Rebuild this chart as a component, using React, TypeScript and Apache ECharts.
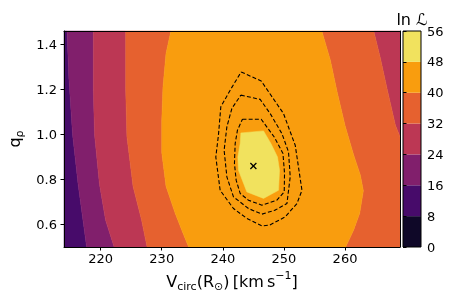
import React, { useEffect, useRef } from "react";
import * as echarts from "echarts";

const FONT = "DejaVu Sans";
const V_MIN = 214;
const V_MAX = 269;
const Q_MIN = 0.5;
const Q_MAX = 1.46;
const xTicks = [220, 230, 240, 250, 260];
const yTicks = [0.6, 0.8, 1.0, 1.2, 1.4];
const levels = [0, 8, 16, 24, 32, 40, 48, 56];
const bandColors = ["#0f0828", "#470b6a", "#811f6c", "#bc3754", "#e6612f", "#f99d0e", "#f1e25e"];

// iso-lines of ln L (top -> bottom), [Vcirc, q]
const edge16 = [[214.5, 1.46], [214.8, 1.25], [215.4, 1.0], [216.3, 0.78], [217.7, 0.5]];
const edge24 = [[218.8, 1.46], [218.8, 1.2], [219.0, 1.0], [219.8, 0.78], [220.8, 0.62], [222.2, 0.5]];
const edge32Left = [[224.1, 1.46], [224.1, 1.2], [224.3, 0.99], [225.3, 0.77], [226.7, 0.62], [227.6, 0.5]];
const edge32Right = [[264.7, 1.46], [265.8, 1.338], [267.0, 1.189], [268.25, 1.041], [269.0, 0.99]];
const edge40Left = [[231.5, 1.46], [230.7, 1.36], [230.2, 1.21], [230.0, 1.06], [230.0, 0.92], [230.7, 0.77], [232.2, 0.65], [233.5, 0.56], [234.4, 0.5]];
const edge40Right = [[256.2, 1.46], [257.6, 1.33], [258.7, 1.19], [260.0, 1.04], [261.4, 0.91], [262.5, 0.82], [263.0, 0.75], [262.4, 0.65], [261.4, 0.575], [260.1, 0.5]];
const peak48 = [[242.95, 1.007], [246.66, 1.016], [247.87, 0.96], [248.95, 0.9], [249.28, 0.841], [249.11, 0.752], [246.66, 0.716], [243.93, 0.745], [242.56, 0.841], [242.46, 0.9], [242.84, 0.96]];

// dashed confidence contours
const contourInner = [[243.21, 1.068], [246.28, 1.068], [248.41, 0.989], [249.84, 0.916], [250.1, 0.827], [250.05, 0.745], [248.85, 0.708], [246.39, 0.686], [244.2, 0.708], [242.84, 0.738], [242.18, 0.797], [241.9, 0.871], [242.02, 0.96], [242.39, 1.019]];
const contourMiddle = [[242.95, 1.175], [246.11, 1.156], [247.75, 1.093], [249.67, 1.004], [250.75, 0.923], [251.03, 0.812], [250.49, 0.693], [248.57, 0.664], [246.39, 0.646], [244.2, 0.671], [241.74, 0.723], [240.66, 0.812], [240.21, 0.93], [240.66, 1.034], [241.48, 1.116]];
const contourOuter = [[243.0, 1.278], [246.28, 1.238], [249.93, 1.093], [251.85, 0.952], [252.95, 0.752], [252.13, 0.693], [250.21, 0.634], [247.64, 0.597], [246.39, 0.594], [243.93, 0.627], [241.74, 0.671], [239.56, 0.752], [238.85, 0.9], [239.28, 0.997], [239.67, 1.123], [241.2, 1.197]];
const bestFit = [245, 0.86];

// each band drawn explicitly (band index into bandColors)
const regions = [
  { band: 1, pts: [[V_MIN, Q_MAX], ...edge16, [V_MIN, Q_MIN]] },
  { band: 2, pts: [...edge16, ...edge24.slice().reverse()] },
  { band: 3, pts: [...edge24, ...edge32Left.slice().reverse()] },
  { band: 3, pts: [...edge32Right, [V_MAX, Q_MAX]] },
  { band: 4, pts: [...edge32Left, ...edge40Left.slice().reverse()] },
  { band: 4, pts: [...edge40Right, [V_MAX, Q_MIN], ...edge32Right.slice().reverse()] },
  { band: 5, pts: [...edge40Left, ...edge40Right.slice().reverse()] },
  { band: 6, pts: peak48 },
];

const close = (a: number[][]) => [...a, a[0]];

const tickLabel = { fontFamily: FONT, fontSize: 13, color: "#000" };

const option: any = {
  animation: false,
  grid: [
    { left: 64, top: 31, width: 336, height: 216, outerBoundsMode: "none" },
    { left: 403, top: 31, width: 18, height: 216, outerBoundsMode: "none" },
  ],
  xAxis: [
    {
      gridIndex: 0, type: "value", min: V_MIN, max: V_MAX, z: 10,
      axisLine: { show: true, lineStyle: { color: "#000", width: 1 } },
      axisTick: { show: true, length: 3.5, customValues: xTicks, lineStyle: { color: "#000" } },
      axisLabel: { ...tickLabel, margin: 5, customValues: xTicks },
      splitLine: { show: false },
      name: "{m|V}{s|circ}{m|(R}{s|⊙}{m|)\u2009[km\u2009s}{p|−1}{m|]}",
      nameLocation: "middle",
      nameGap: 23,
      nameTextStyle: {
        fontFamily: FONT, fontSize: 16, color: "#000",
        rich: {
          m: { fontFamily: FONT, fontSize: 16, lineHeight: 22, color: "#000" },
          s: { fontFamily: FONT, fontSize: 11, lineHeight: 11, color: "#000", verticalAlign: "bottom" },
          p: { fontFamily: FONT, fontSize: 11, lineHeight: 11, color: "#000", verticalAlign: "top" },
        },
      },
    },
    {
      gridIndex: 0, type: "value", min: V_MIN, max: V_MAX, position: "top", z: 10,
      axisLine: { show: true, lineStyle: { color: "#000", width: 1 } },
      axisTick: { show: false }, axisLabel: { show: false }, splitLine: { show: false },
    },
    {
      gridIndex: 1, type: "value", min: 0, max: 1, show: false,
    },
  ],
  yAxis: [
    {
      gridIndex: 0, type: "value", min: Q_MIN, max: Q_MAX, z: 10,
      axisLine: { show: true, lineStyle: { color: "#000", width: 1 } },
      axisTick: { show: true, length: 3.5, customValues: yTicks, lineStyle: { color: "#000" } },
      axisLabel: { ...tickLabel, margin: 7, customValues: yTicks, formatter: (v: number) => v.toFixed(1) },
      splitLine: { show: false },
      name: "{m|q}{s|ρ}",
      nameLocation: "middle",
      nameRotate: 90,
      nameGap: 34,
      nameTextStyle: {
        fontFamily: FONT, fontSize: 16, color: "#000",
        rich: {
          m: { fontFamily: FONT, fontSize: 16, lineHeight: 22, color: "#000" },
          s: { fontFamily: FONT, fontSize: 11, lineHeight: 11, color: "#000", verticalAlign: "bottom" },
        },
      },
    },
    {
      gridIndex: 0, type: "value", min: Q_MIN, max: Q_MAX, position: "right", z: 10,
      axisLine: { show: true, lineStyle: { color: "#000", width: 1 } },
      axisTick: { show: false }, axisLabel: { show: false }, splitLine: { show: false },
    },
    {
      gridIndex: 1, type: "value", min: 0, max: 56, interval: 8, position: "right", z: 10,
      axisLine: { show: false },
      axisTick: { show: true, length: 3.5, lineStyle: { color: "#000" } },
      axisLabel: { ...tickLabel, margin: 6 },
      splitLine: { show: false },
    },
  ],
  graphic: [
    {
      type: "text", x: 412, y: 19.5, z: 20,
      style: { text: "ln ℒ", fontFamily: FONT, fontSize: 16, fill: "#000", align: "center", verticalAlign: "middle" },
    },
  ],
  series: [
    {
      type: "custom", xAxisIndex: 0, yAxisIndex: 0, clip: false, silent: true, z: 1,
      data: [[V_MIN, Q_MIN]],
      renderItem: (params: any, api: any) => ({
        type: "group",
        children: regions.map((r, i) => ({
          type: "polygon",
          z2: i,
          shape: { points: r.pts.map((p) => api.coord(p)) },
          style: { fill: bandColors[r.band], stroke: bandColors[r.band], lineWidth: 0.5 },
        })),
      }),
    },
    ...[contourInner, contourMiddle, contourOuter].map((c) => ({
      type: "line", xAxisIndex: 0, yAxisIndex: 0, silent: true, z: 5,
      data: close(c), showSymbol: false, symbol: "none", smooth: false,
      lineStyle: { color: "#000", width: 1.1, type: [4, 2.2] },
    })),
    {
      type: "custom", xAxisIndex: 0, yAxisIndex: 0, silent: true, z: 6,
      data: [bestFit],
      renderItem: (params: any, api: any) => {
        const [cx, cy] = api.coord([api.value(0), api.value(1)]);
        const s = 3;
        return {
          type: "group",
          children: [
            { type: "line", shape: { x1: cx - s, y1: cy - s, x2: cx + s, y2: cy + s }, style: { stroke: "#000", lineWidth: 1.2 } },
            { type: "line", shape: { x1: cx - s, y1: cy + s, x2: cx + s, y2: cy - s }, style: { stroke: "#000", lineWidth: 1.2 } },
          ],
        };
      },
    },
    {
      type: "custom", xAxisIndex: 2, yAxisIndex: 2, silent: true, z: 2,
      data: [[0, 0]],
      renderItem: (params: any, api: any) => {
        const children: any[] = levels.slice(0, -1).map((lo, i) => {
          const p0 = api.coord([0, levels[i + 1]]);
          const p1 = api.coord([1, lo]);
          return { type: "rect", z2: 1, shape: { x: p0[0], y: p0[1], width: p1[0] - p0[0], height: p1[1] - p0[1] }, style: { fill: bandColors[i] } };
        });
        const t = api.coord([0, levels[levels.length - 1]]);
        const b = api.coord([1, levels[0]]);
        children.push({ type: "rect", z2: 10, shape: { x: t[0], y: t[1], width: b[0] - t[0], height: b[1] - t[1] }, style: { fill: "none", stroke: "#000", lineWidth: 1 } });
        return { type: "group", children };
      },
    },
  ],
};

export default function App() {
  const ref = useRef<HTMLDivElement>(null);
  useEffect(() => {
    document.body.style.margin = "0";
    const chart = echarts.init(ref.current!, null, { renderer: "svg" });
    chart.setOption(option);
    return () => chart.dispose();
  }, []);
  return <div ref={ref} style={{ width: 457, height: 305, position: "fixed", left: 0, top: 0 }} />;
}
